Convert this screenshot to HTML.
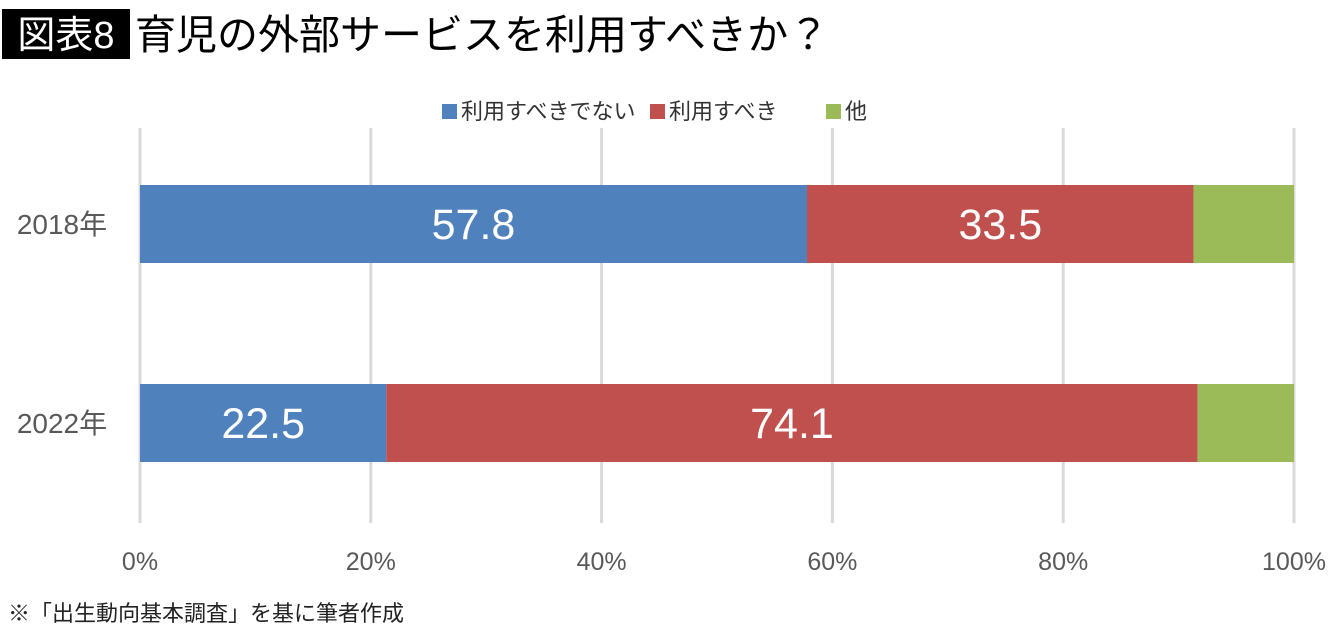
<!DOCTYPE html>
<html><head><meta charset="utf-8"><style>
body{margin:0;background:#fff;width:1340px;height:630px;overflow:hidden;font-family:"Liberation Sans","Noto Sans CJK JP",sans-serif;}
</style></head><body>
<svg width="1340" height="630">
<rect x="2" y="9" width="128" height="50" fill="#000"/>
<text x="66" y="48" font-size="38" fill="#fff" text-anchor="middle" font-family="Liberation Sans,Noto Sans CJK JP,sans-serif">図表8</text>
<text x="135" y="49" font-size="41" fill="#000" font-family="Liberation Sans,Noto Sans CJK JP,sans-serif">育児の外部サービスを利用すべきか？</text>
<g id="legend"></g>
<g id="grid"></g>
<g id="bars"></g>
<text x="8" y="621" font-size="22" fill="#222" font-family="Liberation Sans,Noto Sans CJK JP,sans-serif">※「出生動向基本調査」を基に筆者作成</text>
</svg>
<script>
const categories=["2018年","2022年"];
const seriesNames=["利用すべきでない","利用すべき","他"];
const noUse=[57.8,22.5];
const use=[33.5,74.1];
const other=[8.7,8.8];
const ticks=[0,20,40,60,80,100];
const colors=["#4f81bd","#c0504d","#9bbb59"];
const NS="http://www.w3.org/2000/svg";
const x0=140,x1=1294;
const xs=p=>x0+(x1-x0)*p/100;
const ys=[185,384],bh=78;
const F='Liberation Sans,Noto Sans CJK JP,sans-serif';
function mk(t,a,p){const e=document.createElementNS(NS,t);for(const k in a)e.setAttribute(k,a[k]);p.appendChild(e);return e;}
const g=document.getElementById('grid');
ticks.forEach(t=>{
 const l=mk('line',{x1:xs(t),x2:xs(t),y1:128,y2:523,stroke:'#d9d9d9','stroke-width':3},g);
 
 
 const tx=mk('text',{x:xs(t),y:570,'font-size':25,fill:'#595959','text-anchor':'middle','font-family':F},g);
 tx.textContent=t+'%';
 
 
});
const b=document.getElementById('bars');
const series=[noUse,use,other];
categories.forEach((c,i)=>{
 const tot=noUse[i]+use[i]+other[i];
 let acc=0;
 series.forEach((s,j)=>{
  const p0=acc/tot*100; acc+=s[i]; const p1=acc/tot*100;
  const r=mk('rect',{x:xs(p0),y:ys[i],width:xs(p1)-xs(p0),height:bh,fill:colors[j]},b);
  
  
  if(j<2){
   const t=mk('text',{x:(xs(p0)+xs(p1))/2,y:ys[i]+bh/2+15,'font-size':43,fill:'#fff','text-anchor':'middle','font-family':F},b);
   t.textContent=s[i].toFixed(1);
   
   
  }
 });
 const yl=mk('text',{x:62,y:ys[i]+bh/2+10,'font-size':28,fill:'#595959','text-anchor':'middle','font-family':F},b);
 yl.textContent=c;
 
 
});
const lg=document.getElementById('legend');
const lx=[442,650,826];
seriesNames.forEach((n,j)=>{
 const r=mk('rect',{x:lx[j],y:104,width:15,height:15,fill:colors[j]},lg);
 
 
 const t=mk('text',{x:lx[j]+19,y:119,'font-size':22,fill:'#333','font-family':F},lg);
 t.textContent=n;
 
 
});
</script>
</body></html>
